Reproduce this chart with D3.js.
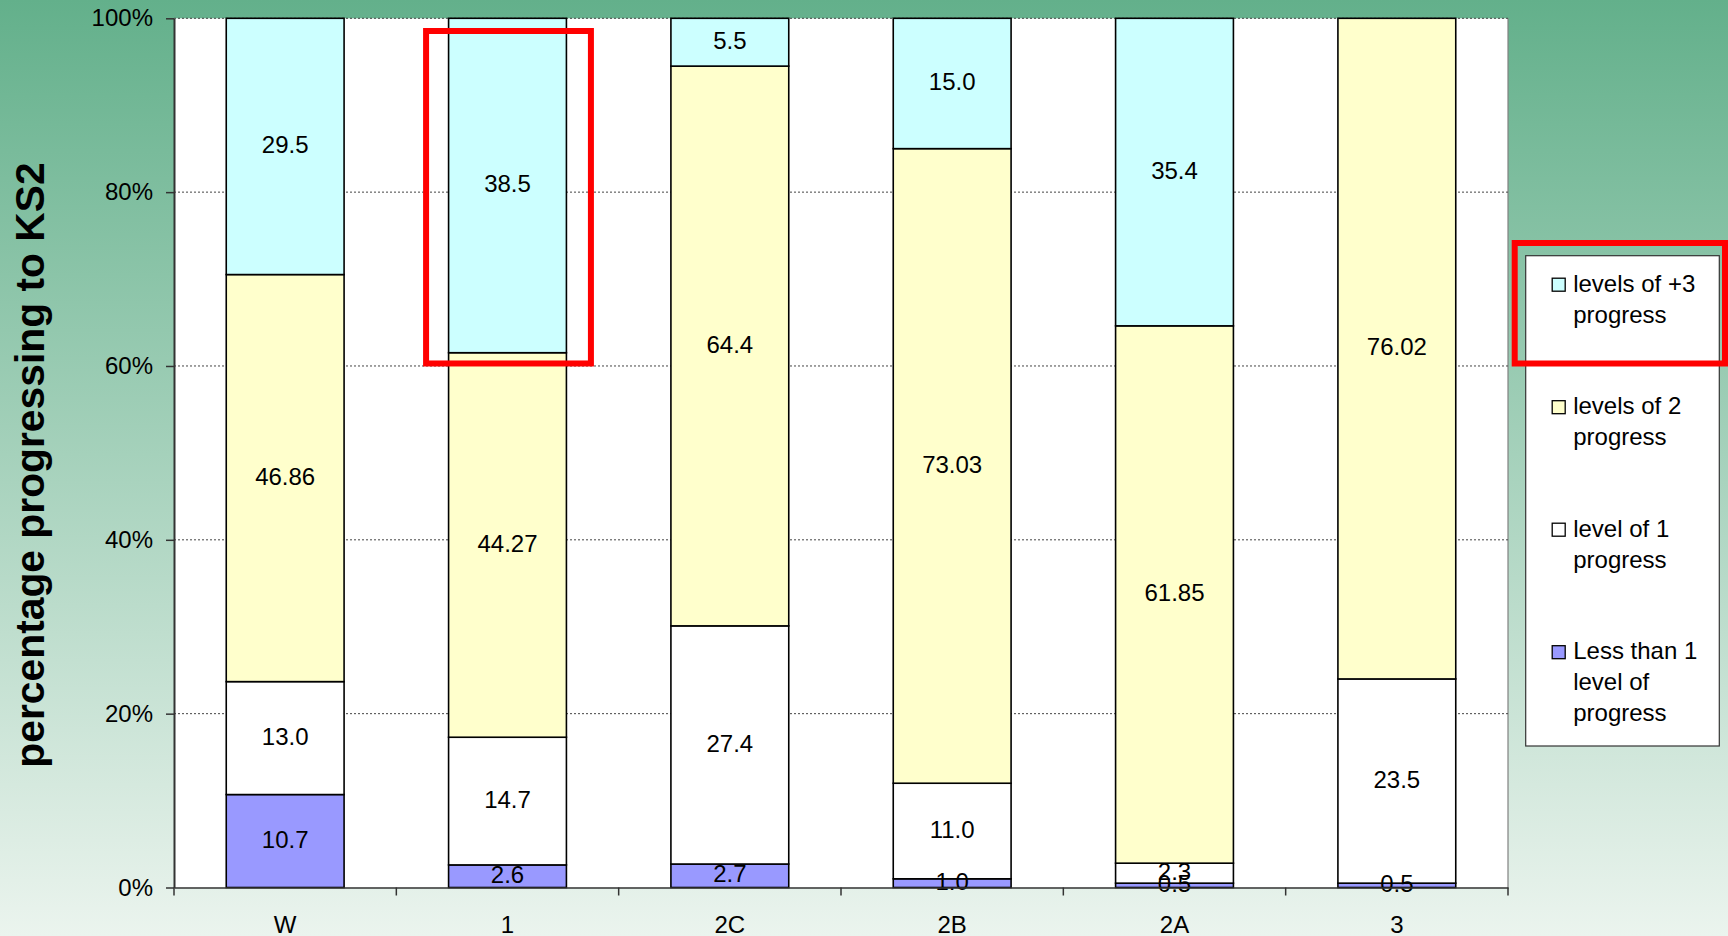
<!DOCTYPE html>
<html>
<head>
<meta charset="utf-8">
<script src="https://cdn.jsdelivr.net/npm/d3@7"></script>
<style>
  html, body { margin: 0; padding: 0; background: #fff; }
  svg { display: block; }
  text { font-family: 'Liberation Sans', Arial, sans-serif; fill: #000; }
</style>
</head>
<body>
<svg id="chart" width="1728" height="936"></svg>
<script>
// ---- data ----
const categories = ["W", "1", "2C", "2B", "2A", "3"];
const lessThan1 = [10.7, 2.6, 2.7, 1.0, 0.5, 0.5];
const level1 = [13.0, 14.7, 27.4, 11.0, 2.3, 23.5];
const levels2 = [46.86, 44.27, 64.4, 73.03, 61.85, 76.02];
const levels3 = [29.5, 38.5, 5.5, 15.0, 35.4, 0];
const seriesKeys = ["less", "one", "two", "three"];
const seriesColors = ["#9999FF", "#FFFFFF", "#FFFFCC", "#CCFFFF"];
const legendLabels = [
  ["levels of +3", "progress"],
  ["levels of 2", "progress"],
  ["level of 1", "progress"],
  ["Less than 1", "level of", "progress"]
];
const legendColors = ["#CCFFFF", "#FFFFCC", "#FFFFFF", "#9999FF"];
const yTickValues = [0, 0.2, 0.4, 0.6, 0.8, 1.0];
const yTitle = "percentage progressing to KS2";

// ---- layout ----
const W = 1728, H = 936;
const plot = { left: 174, right: 1508, top: 18.3, bottom: 887.5 };

const svg = d3.select("#chart");
const defs = svg.append("defs");
const grad = defs.append("linearGradient").attr("id", "bg")
  .attr("x1", 0).attr("y1", 0).attr("x2", 0).attr("y2", 1);
grad.append("stop").attr("offset", "0%").attr("stop-color", "rgb(99,176,139)");
grad.append("stop").attr("offset", "100%").attr("stop-color", "rgb(235,244,238)");
svg.append("rect").attr("width", W).attr("height", H).attr("fill", "url(#bg)");

// plot area
svg.append("rect")
  .attr("x", plot.left).attr("y", plot.top)
  .attr("width", plot.right - plot.left).attr("height", plot.bottom - plot.top)
  .attr("fill", "#fff");
svg.append("line")
  .attr("x1", plot.right).attr("x2", plot.right)
  .attr("y1", plot.top).attr("y2", plot.bottom)
  .attr("stroke", "#808080").attr("stroke-width", 1.2);

const x = d3.scaleBand().domain(categories).range([plot.left, plot.right]).padding(0);
const y = d3.scaleLinear().domain([0, 1]).range([plot.bottom, plot.top]);
const barFrac = 0.53;
const bw = x.bandwidth() * barFrac;
const bx = c => x(c) + (x.bandwidth() - bw) / 2;

// gridlines
svg.append("g").selectAll("line")
  .data(yTickValues.filter(v => v > 0))
  .join("line")
  .attr("x1", plot.left).attr("x2", plot.right)
  .attr("y1", d => y(d)).attr("y2", d => y(d))
  .attr("stroke", "#444").attr("stroke-width", 1)
  .attr("stroke-dasharray", "2,2");

// stacked data
const rows = categories.map((c, i) => ({
  cat: c, less: lessThan1[i], one: level1[i], two: levels2[i], three: levels3[i]
}));
const stack = d3.stack().keys(seriesKeys).offset(d3.stackOffsetExpand);
const series = stack(rows);
const fmt = {
  less: v => v.toFixed(1),
  one: v => v.toFixed(1),
  two: v => String(+v.toFixed(2)),
  three: v => v.toFixed(1)
};

const gBars = svg.append("g");
series.forEach((s, si) => {
  gBars.append("g").selectAll("rect")
    .data(s.filter(d => d.data[s.key] > 0))
    .join("rect")
    .attr("x", d => bx(d.data.cat))
    .attr("width", bw)
    .attr("y", d => y(d[1]))
    .attr("height", d => y(d[0]) - y(d[1]))
    .attr("fill", seriesColors[si])
    .attr("stroke", "#000").attr("stroke-width", 1.6);
});

// labels
series.forEach((s, si) => {
  svg.append("g").selectAll("text")
    .data(s.filter(d => d.data[s.key] > 0))
    .join("text")
    .attr("x", d => bx(d.data.cat) + bw / 2)
    .attr("y", d => (y(d[0]) + y(d[1])) / 2)
    .attr("dy", "0.28em")
    .attr("text-anchor", "middle")
    .attr("font-size", 24)
    .text(d => fmt[s.key](d.data[s.key]));
});

// y axis
const yAxis = d3.axisLeft(y).tickValues(yTickValues).tickFormat(d3.format(".0%"))
  .tickSize(8).tickSizeOuter(0).tickPadding(13);
const gy = svg.append("g").attr("transform", `translate(${plot.left},0)`).call(yAxis);
gy.select(".domain").attr("stroke", "#333").attr("stroke-width", 2);
gy.selectAll(".tick line").attr("stroke", "#333").attr("stroke-width", 1.5);
gy.selectAll(".tick text").attr("font-size", 24)
  .attr("font-family", "'Liberation Sans', Arial, sans-serif").attr("fill", "#000");

// x axis
const xAxis = d3.axisBottom(x).tickSize(0).tickPadding(28);
const gx = svg.append("g").attr("transform", `translate(0,${plot.bottom})`).call(xAxis);
gx.select(".domain").attr("stroke", "#333").attr("stroke-width", 1.5);
gx.selectAll(".tick text").attr("font-size", 24)
  .attr("font-family", "'Liberation Sans', Arial, sans-serif").attr("fill", "#000");
const sepTicks = categories.map(c => x(c)).concat([plot.right]);
gx.append("g").selectAll("line").data(sepTicks).join("line")
  .attr("x1", d => d).attr("x2", d => d)
  .attr("y1", 0).attr("y2", 8)
  .attr("stroke", "#333").attr("stroke-width", 1.5);

// y title
svg.append("text")
  .attr("transform", `translate(44,465) rotate(-90)`)
  .attr("text-anchor", "middle")
  .attr("font-size", 40.8).attr("font-weight", "bold")
  .text(yTitle);

// legend
const lg = { x: 1525.7, y: 255.7, w: 193.6, h: 490.3 };
svg.append("rect").attr("x", lg.x).attr("y", lg.y).attr("width", lg.w).attr("height", lg.h)
  .attr("fill", "#fff").attr("stroke", "#333").attr("stroke-width", 1.2);
legendLabels.forEach((lines, i) => {
  const base = 291.7 + i * 122.5;
  svg.append("rect")
    .attr("x", lg.x + 26.5).attr("y", base - 13.5)
    .attr("width", 13).attr("height", 13)
    .attr("fill", legendColors[i]).attr("stroke", "#000").attr("stroke-width", 1.3);
  lines.forEach((t, j) => {
    svg.append("text")
      .attr("x", lg.x + 47.5).attr("y", base + j * 31)
      .attr("font-size", 24)
      .text(t);
  });
});

// red highlight annotations
const redW = 6;
svg.append("rect")
  .attr("x", bx("1") - 22.5).attr("y", y(1) + 12.7)
  .attr("width", bw + 47).attr("height", y(0.6) - 2.5 - (y(1) + 12.7))
  .attr("fill", "none").attr("stroke", "#FF0000").attr("stroke-width", redW);
svg.append("rect")
  .attr("x", lg.x - 11).attr("y", lg.y - 12.7)
  .attr("width", lg.w + 11 + 5.7).attr("height", 120.5)
  .attr("fill", "none").attr("stroke", "#FF0000").attr("stroke-width", redW);
</script>
</body>
</html>
